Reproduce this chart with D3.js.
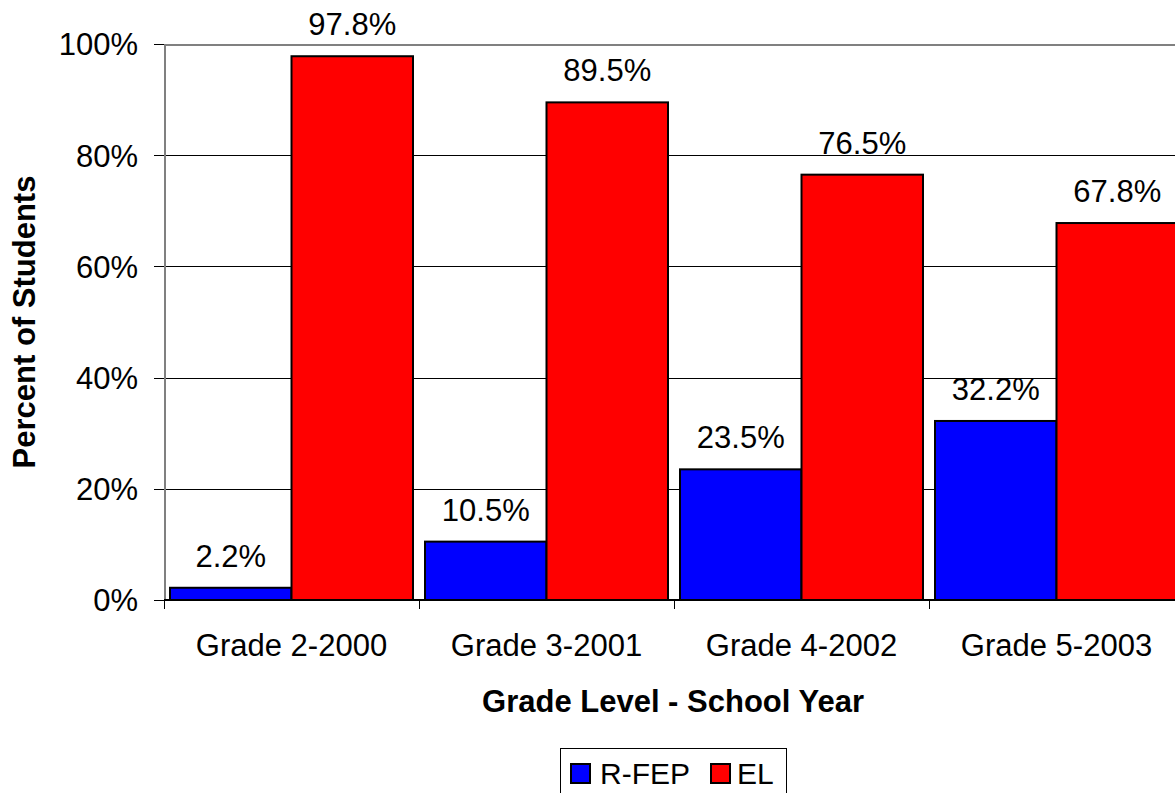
<!DOCTYPE html>
<html><head><meta charset="utf-8">
<script src="https://cdn.jsdelivr.net/npm/d3@7"></script>
<style>body{margin:0;background:#fff;overflow:hidden}svg{display:block}</style>
</head><body>
<svg id="c" width="1175" height="793"></svg>
<script>
const categories = ["Grade 2-2000","Grade 3-2001","Grade 4-2002","Grade 5-2003"];
const series = ["R-FEP","EL"];
const rfep = [2.2, 10.5, 23.5, 32.2];
const el = [97.8, 89.5, 76.5, 67.8];
const colors = ["#0000ff","#ff0000"];
const yTicks = [0,20,40,60,80,100];

const svg = d3.select("#c");
const font = "'Liberation Sans', Arial, sans-serif";
const FS = 31;
const L = 164, R = 1184, T = 44, B = 600;

const x = d3.scaleBand().domain(categories).range([L,R]).paddingInner(12/255).paddingOuter(6/255);
const xs = d3.scaleBand().domain(series).range([0,x.bandwidth()]);
const y = d3.scaleLinear().domain([0,100]).range([B,T]);

// gridlines
svg.append("g").selectAll("line").data(yTicks.filter(d=>d>0)).join("line")
  .attr("x1",L).attr("x2",R).attr("y1",d=>Math.round(y(d))+0.5).attr("y2",d=>Math.round(y(d))+0.5)
  .attr("stroke",d=>d===100?"#808080":"#000").attr("stroke-width",d=>d===100?2:1)
  .attr("shape-rendering","crispEdges");
// left border
svg.append("line").attr("x1",L+0.5).attr("x2",L+0.5).attr("y1",T).attr("y2",B)
  .attr("stroke","#808080").attr("stroke-width",2).attr("shape-rendering","crispEdges");

// bars
const data = [];
categories.forEach((c,i)=>{ data.push({c,s:"R-FEP",v:rfep[i],k:0}); data.push({c,s:"EL",v:el[i],k:1}); });
svg.append("g").selectAll("rect").data(data).join("rect")
  .attr("x",d=>x(d.c)+xs(d.s)).attr("width",xs.bandwidth())
  .attr("y",d=>y(d.v)).attr("height",d=>B-y(d.v))
  .attr("fill",d=>colors[d.k]).attr("stroke","#000").attr("stroke-width",2);

// value labels
svg.append("g").selectAll("text").data(data).join("text")
  .attr("x",d=>x(d.c)+xs(d.s)+xs.bandwidth()/2).attr("y",d=>y(d.v)-21)
  .attr("text-anchor","middle").attr("font-family",font).attr("font-size",FS)
  .text(d=>d.v.toFixed(1)+"%");

// y axis
const ya = d3.axisLeft(y).tickValues(yTicks).tickFormat(d=>d+"%").tickSize(10).tickPadding(16);
const gy = svg.append("g").attr("transform",`translate(${L},0)`).call(ya);
gy.select(".domain").remove();
gy.selectAll("text").attr("font-family",font).attr("font-size",FS).attr("fill","#000").attr("dy","0.35em");
gy.selectAll("line").attr("stroke","#000").attr("shape-rendering","crispEdges");

// x axis
const gx = svg.append("g").attr("transform",`translate(0,${B})`);
gx.append("line").attr("x1",L).attr("x2",R).attr("stroke","#000").attr("stroke-width",2);
const bounds = [L, ...categories.slice(1).map(c=>x(c)-x.step()*x.paddingInner()/2), R];
gx.selectAll(".tk").data(bounds).join("line").attr("class","tk")
  .attr("x1",d=>Math.round(d)+0.5).attr("x2",d=>Math.round(d)+0.5).attr("y1",0).attr("y2",9)
  .attr("stroke","#000").attr("shape-rendering","crispEdges");
gx.selectAll(".lb").data(categories).join("text").attr("class","lb")
  .attr("x",d=>x(d)+x.bandwidth()/2).attr("y",56).attr("text-anchor","middle")
  .attr("font-family",font).attr("font-size",FS).text(d=>d);

// axis titles
svg.append("text").attr("x",673).attr("y",712).attr("text-anchor","middle")
  .attr("font-family",font).attr("font-size",FS).attr("font-weight","bold").text("Grade Level - School Year");
svg.append("text").attr("transform","translate(35,322) rotate(-90)").attr("text-anchor","middle")
  .attr("font-family",font).attr("font-size",FS).attr("font-weight","bold").text("Percent of Students");

// legend
const lg = svg.append("g");
lg.append("rect").attr("x",560.5).attr("y",748.5).attr("width",226).attr("height",60)
  .attr("fill","#fff").attr("stroke","#000");
const items = [{s:"R-FEP",x:571},{s:"EL",x:711}];
items.forEach((it,i)=>{
  lg.append("rect").attr("x",it.x).attr("y",764).attr("width",19).attr("height",19)
    .attr("fill",colors[i]).attr("stroke","#000").attr("stroke-width",2);
  lg.append("text").attr("x",it.x+(i===0?29:26)).attr("y",784).attr("font-family",font).attr("font-size",30).text(it.s);
});
</script>
</body></html>
